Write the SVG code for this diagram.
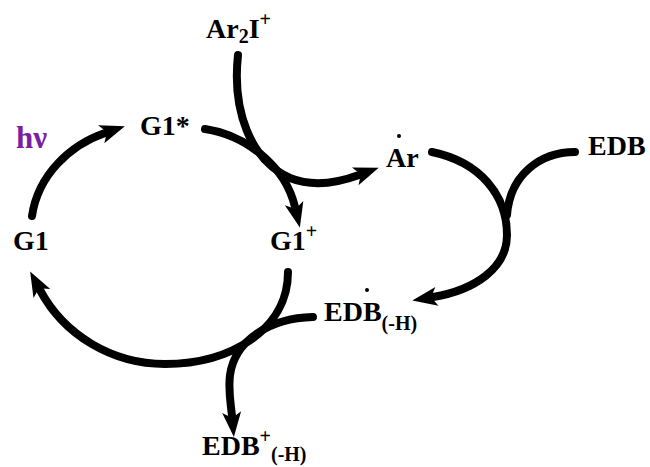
<svg xmlns="http://www.w3.org/2000/svg" width="650" height="467" viewBox="0 0 650 467">
<style>
text{font-family:"Liberation Serif","Times New Roman",serif;font-weight:bold;font-size:28px;fill:#000}
.s{font-size:20px}
.hv{fill:#7B1FA2;font-size:31px}
.c{fill:none;stroke:#000;stroke-width:8;stroke-linecap:round}
</style>
<defs>
<marker id="ah" markerUnits="userSpaceOnUse" viewBox="-10 -12 36 24" markerWidth="36" markerHeight="24" refX="0" refY="0" orient="auto">
<path d="M21,0 L-4,-9.5 L2,0 L-4,9.5 Z" fill="#000"/>
</marker>
</defs>
<rect width="650" height="467" fill="#fff"/>
<g id="connectors">
<path class="c" d="M32,216 C38,175 70,145 105,133" marker-end="url(#ah)"/>
<path class="c" d="M205,129 C245,135 285,165 295,207" marker-end="url(#ah)"/>
<path class="c" d="M238,55 C232,110 250,160 290,178 C315,188 340,182 359,175" marker-end="url(#ah)"/>
<path class="c" d="M432,152 C480,162 507,195 507,235 C507,268 475,290 433,297" marker-end="url(#ah)"/>
<path class="c" d="M575,152 C540,152 510,175 507,215"/>
<path class="c" d="M288,272 C288,330 230,364 165,364 C112,364 64,335 40,290" marker-end="url(#ah)"/>
<path class="c" d="M313,317 C270,318 235,340 230,375 C228,392 231,405 232,416" marker-end="url(#ah)"/>
</g>
<g id="Ar2I">
<text x="206" y="38">Ar<tspan class="s" dy="5">2</tspan><tspan dy="-5">I</tspan><tspan class="s" dy="-12">+</tspan></text>
</g>
<g id="hv">
<text class="hv" x="16" y="148">hν</text>
</g>
<g id="G1star">
<text x="140" y="135">G1*</text>
</g>
<g id="Ar">
<circle cx="399" cy="136" r="2"/>
<text x="386" y="167">Ar</text>
</g>
<g id="EDB">
<text x="588" y="155">EDB</text>
</g>
<g id="G1">
<text x="13" y="250">G1</text>
</g>
<g id="G1plus">
<text x="270" y="250">G1<tspan class="s" dy="-12">+</tspan></text>
</g>
<g id="EDBH">
<circle cx="367" cy="290" r="2"/>
<text x="324" y="321">EDB<tspan class="s" dy="9">(-H)</tspan></text>
</g>
<g id="EDBplusH">
<text x="202" y="455">EDB<tspan class="s" dy="-12">+</tspan><tspan class="s" dy="18">(-H)</tspan></text>
</g>
</svg>
